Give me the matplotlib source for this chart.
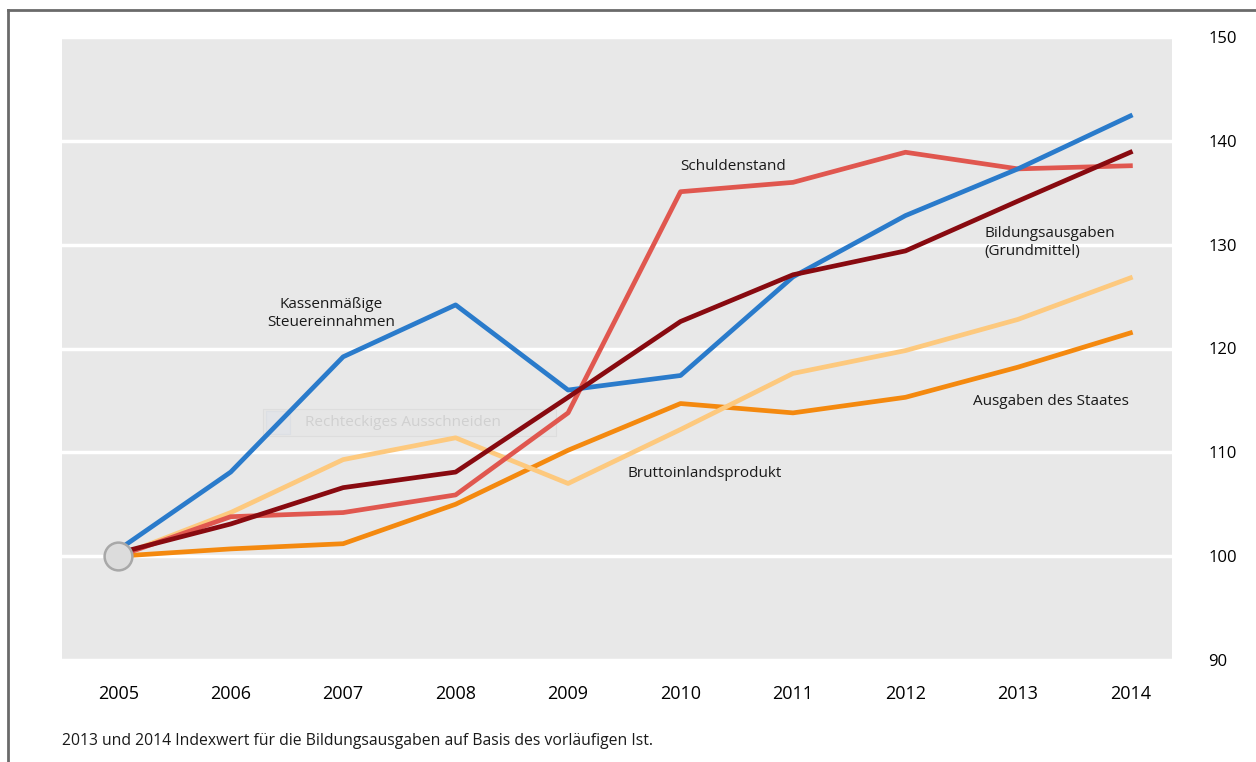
import numpy as np
import matplotlib.pyplot as plt
from matplotlib.patches import Rectangle

plt.rcParams['font.family'] = ['Open Sans', 'DejaVu Sans']

years = [2005, 2006, 2007, 2008, 2009, 2010, 2011, 2012, 2013, 2014]
steuer = [100.6, 108.1, 119.2, 124.2, 116.0, 117.4, 126.9, 132.8, 137.3, 142.4]
schulden = [100.0, 103.8, 104.2, 105.9, 113.8, 135.1, 136.0, 138.9, 137.3, 137.6]
bildung = [100.3, 103.1, 106.6, 108.1, 115.3, 122.6, 127.1, 129.4, 134.2, 138.9]
bip = [100.0, 104.2, 109.3, 111.4, 107.0, 112.2, 117.6, 119.8, 122.8, 126.8]
staat = [100.0, 100.7, 101.2, 105.0, 110.2, 114.7, 113.8, 115.3, 118.2, 121.5]
yticks = [90, 100, 110, 120, 130, 140, 150]

fig = plt.figure(figsize=(12.56, 7.62), dpi=100)
ax = fig.add_axes([62/1256, 1-660/762, (1172-62)/1256, (660-37)/762])
ax.set_facecolor('#e8e8e8')

for v in yticks:
    ax.axhline(v, color='white', lw=2.5, zorder=1)

lw = 3.4
ax.plot(years, staat, color='#f4890f', lw=lw, zorder=3)
ax.plot(years, bip, color='#fdc97e', lw=lw, zorder=3)
ax.plot(years, schulden, color='#e0574f', lw=lw, zorder=3)
ax.plot(years, steuer, color='#2a7bcb', lw=lw, zorder=3)
ax.plot(years, bildung, color='#880a10', lw=lw, zorder=4)
ax.plot([2005], [100], 'o', ms=20, mfc='#dcdcdc', mec='#a8a8a8', mew=1.8, zorder=5)

ax.set_xlim(2004.5, 2014.37)
ax.set_ylim(90.2, 149.9)
ax.set_xticks(years)
ax.set_xticklabels([str(y) for y in years], fontsize=13)
ax.set_yticks(yticks)
ax.yaxis.tick_right()
ax.tick_params(axis='y', length=0, pad=26, labelsize=12)
ax.tick_params(axis='x', length=0, pad=18)
for s in ax.spines.values():
    s.set_visible(False)

tk = dict(fontsize=11, color='#1a1a1a', zorder=6)
ax.text(2006.89, 123.4, 'Kassenmäßige\nSteuereinnahmen', ha='center', va='center', linespacing=1.3, **tk)
ax.text(2010.47, 137.5, 'Schuldenstand', ha='center', va='center', **tk)
ax.text(2012.70, 130.2, 'Bildungsausgaben\n(Grundmittel)', ha='left', va='center', linespacing=1.3, **tk)
ax.text(2012.60, 114.9, 'Ausgaben des Staates', ha='left', va='center', **tk)
ax.text(2009.53, 108.0, 'Bruttoinlandsprodukt', ha='left', va='center', **tk)

# faint overlay from the screenshot (tooltip)
ax.add_patch(Rectangle((2006.29, 111.6), 2.6, 2.55, fc='#e6e6e6', ec='#dddddd', lw=0.8, zorder=2))
ax.add_patch(Rectangle((2006.31, 111.75), 0.22, 2.25, fc='#e2e4e8', ec='#dcdfe4', lw=0.8, zorder=2))
ax.text(2006.66, 112.9, 'Rechteckiges Ausschneiden', ha='left', va='center',
        fontsize=11, color='#d0d0d0', zorder=2)

fig.text(62/1256, 1-741/762, '2013 und 2014 Indexwert für die Bildungsausgaben auf Basis des vorläufigen Ist.',
         fontsize=11.3, color='#1a1a1a', va='center')

# frame lines
fig.add_artist(plt.Line2D([8/1256, 8/1256], [0, 1-10/762], color='#6a6a6a', lw=2))
fig.add_artist(plt.Line2D([8/1256, 1], [1-10/762, 1-10/762], color='#6a6a6a', lw=2))

fig.savefig('out.png', dpi=100)
